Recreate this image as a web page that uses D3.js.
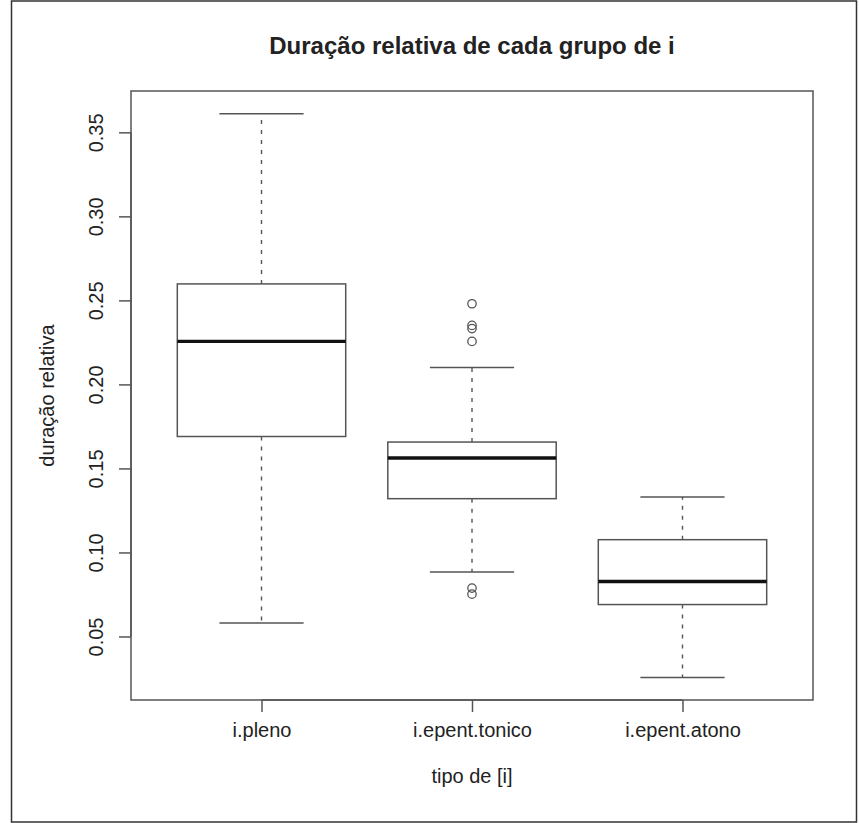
<!DOCTYPE html>
<html>
<head>
<meta charset="utf-8">
<script src="https://cdn.jsdelivr.net/npm/d3@7"></script>
<style>
  body { margin: 0; background: #fff; }
  text { font-family: "Liberation Sans", Arial, sans-serif; fill: #222; }
</style>
</head>
<body>
<div id="chart"></div>
<script>
// data
var categories = ["i.pleno", "i.epent.tonico", "i.epent.atono"];
var whiskerLow = [0.058, 0.0883, 0.0256];
var q1 = [0.169, 0.132, 0.069];
var medians = [0.2256, 0.1562, 0.0827];
var q3 = [0.2598, 0.1657, 0.1076];
var whiskerHigh = [0.3611, 0.2101, 0.133];
var outliers = [[], [0.248, 0.2351, 0.2332, 0.2256, 0.0788, 0.0752], []];
var yTicks = [0.05, 0.10, 0.15, 0.20, 0.25, 0.30, 0.35];

var width = 859, height = 823;
var margin = { top: 91, right: 46, bottom: 123, left: 131 };

var svg = d3.select("#chart").append("svg")
    .attr("width", width)
    .attr("height", height);

// frame round the whole figure
svg.append("rect")
    .attr("x", 11.5).attr("y", 1)
    .attr("width", 845).attr("height", 821)
    .attr("fill", "none")
    .attr("stroke", "#333")
    .attr("stroke-width", 1.5);

var pw = width - margin.left - margin.right,
    ph = height - margin.top - margin.bottom;

var g = svg.append("g")
    .attr("transform", "translate(" + margin.left + "," + margin.top + ")");

// R style: positions 1..n, box width 0.8, 4% padding
var x = d3.scaleLinear().domain([0.38, 3.62]).range([0, pw]);
var y = d3.scaleLinear().domain([0.0122, 0.3746]).range([ph, 0]);

var data = categories.map(function (c, i) {
    return { cat: c, pos: i + 1, lo: whiskerLow[i], q1: q1[i], med: medians[i],
             q3: q3[i], hi: whiskerHigh[i], out: outliers[i] };
});

var lineCol = "#555";
var halfBox = (x(1.4) - x(1)), halfCap = (x(1.2) - x(1));

var box = g.selectAll(".box").data(data).enter().append("g").attr("class", "box");

// whiskers
box.append("line")
    .attr("x1", d => x(d.pos)).attr("x2", d => x(d.pos))
    .attr("y1", d => y(d.q3)).attr("y2", d => y(d.hi))
    .attr("stroke", lineCol).attr("stroke-dasharray", "4,6").attr("stroke-width", 1.4);
box.append("line")
    .attr("x1", d => x(d.pos)).attr("x2", d => x(d.pos))
    .attr("y1", d => y(d.q1)).attr("y2", d => y(d.lo))
    .attr("stroke", lineCol).attr("stroke-dasharray", "4,6").attr("stroke-width", 1.4);
// caps
box.append("line")
    .attr("x1", d => x(d.pos) - halfCap).attr("x2", d => x(d.pos) + halfCap)
    .attr("y1", d => y(d.hi)).attr("y2", d => y(d.hi))
    .attr("stroke", lineCol).attr("stroke-width", 1.5);
box.append("line")
    .attr("x1", d => x(d.pos) - halfCap).attr("x2", d => x(d.pos) + halfCap)
    .attr("y1", d => y(d.lo)).attr("y2", d => y(d.lo))
    .attr("stroke", lineCol).attr("stroke-width", 1.5);
// boxes
box.append("rect")
    .attr("x", d => x(d.pos) - halfBox)
    .attr("y", d => y(d.q3))
    .attr("width", 2 * halfBox)
    .attr("height", d => y(d.q1) - y(d.q3))
    .attr("fill", "#fff").attr("stroke", lineCol).attr("stroke-width", 1.5);
// medians
box.append("line")
    .attr("x1", d => x(d.pos) - halfBox).attr("x2", d => x(d.pos) + halfBox)
    .attr("y1", d => y(d.med)).attr("y2", d => y(d.med))
    .attr("stroke", "#111").attr("stroke-width", 3.4);
// outliers
box.selectAll(".out")
    .data(d => d.out.map(v => ({ pos: d.pos, v: v })))
    .enter().append("circle")
    .attr("cx", d => x(d.pos)).attr("cy", d => y(d.v))
    .attr("r", 4.2).attr("fill", "none")
    .attr("stroke", lineCol).attr("stroke-width", 1.3);

// plot frame
g.append("rect")
    .attr("width", pw).attr("height", ph)
    .attr("fill", "none").attr("stroke", lineCol).attr("stroke-width", 1.5);

// y axis
var yAxis = g.append("g")
    .call(d3.axisLeft(y).tickValues(yTicks).tickSize(12).tickFormat(d3.format(".2f")));
yAxis.select(".domain").attr("stroke", lineCol).attr("stroke-width", 1.5)
    .attr("d", "M0," + y(0.05) + "V" + y(0.35));
yAxis.selectAll(".tick line").attr("stroke", lineCol).attr("stroke-width", 1.5);
yAxis.selectAll(".tick text")
    .attr("font-size", 20)
    .attr("fill", "#222")
    .attr("text-anchor", "middle")
    .attr("x", 0).attr("dy", 0)
    .attr("transform", "translate(-28,0) rotate(-90)")
    .attr("y", 0);

// x axis
var xAxis = g.append("g")
    .attr("transform", "translate(0," + ph + ")")
    .call(d3.axisBottom(x).tickValues([1, 2, 3]).tickSize(12)
        .tickFormat(d => categories[d - 1]));
xAxis.select(".domain").attr("stroke", lineCol).attr("stroke-width", 1.5)
    .attr("d", "M" + x(1) + ",0H" + x(3));
xAxis.selectAll(".tick line").attr("stroke", lineCol).attr("stroke-width", 1.5);
xAxis.selectAll(".tick text")
    .attr("font-size", 20).attr("fill", "#222")
    .attr("y", 30).attr("dy", "0.35em");

// titles
svg.append("text")
    .attr("x", margin.left + pw / 2).attr("y", 54)
    .attr("text-anchor", "middle")
    .attr("font-size", 24).attr("font-weight", "bold")
    .text("Duração relativa de cada grupo de i");

svg.append("text")
    .attr("x", margin.left + pw / 2).attr("y", 783)
    .attr("text-anchor", "middle")
    .attr("font-size", 20)
    .text("tipo de [i]");

svg.append("text")
    .attr("transform", "translate(54," + (margin.top + ph / 2) + ") rotate(-90)")
    .attr("text-anchor", "middle")
    .attr("font-size", 20)
    .text("duração relativa");
</script>
</body>
</html>
